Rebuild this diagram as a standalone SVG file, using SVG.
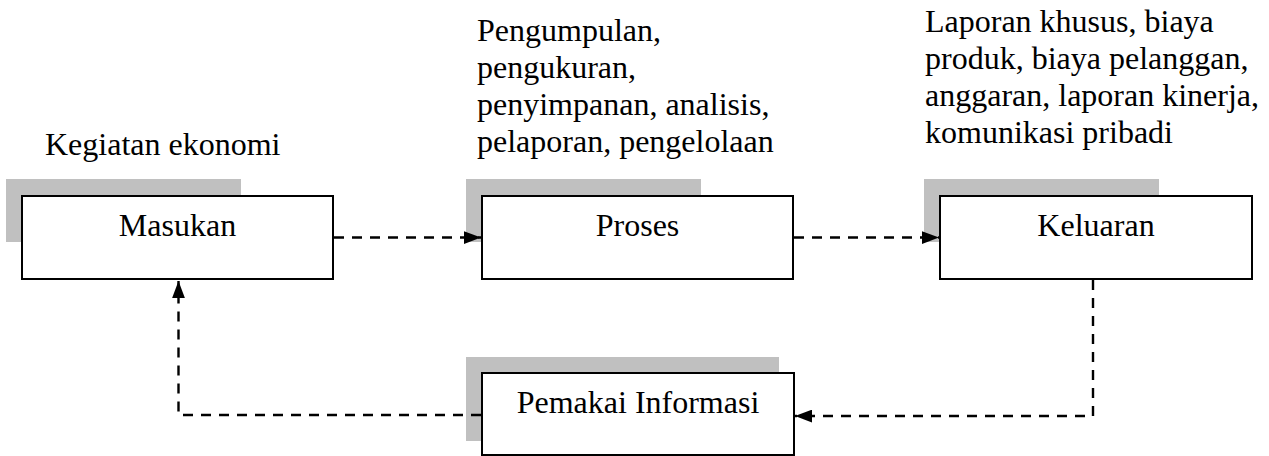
<svg xmlns="http://www.w3.org/2000/svg" width="1269" height="456" viewBox="0 0 1269 456">
  <style>
    .shadow { fill: #c0c0c0; stroke: none; }
    .box { fill: #ffffff; stroke: #000000; stroke-width: 2; }
    text { font-family: "Liberation Serif", serif; font-size: 32px; fill: #000000; }
    .mid { text-anchor: middle; }
    .flow { fill: none; stroke: #000000; stroke-width: 2.4; stroke-dasharray: 10 8; }
  </style>
  <defs>
    <marker id="head" viewBox="0 0 16 12" refX="16" refY="6" markerWidth="17" markerHeight="13" markerUnits="userSpaceOnUse" orient="auto">
      <path d="M0,0 L16,6 L0,12 Z" fill="#000000"/>
    </marker>
  </defs>

  <rect width="1269" height="456" fill="#ffffff"/>

  <!-- notes above the boxes, set as multi-line text blocks -->
  <g id="note-masukan">
    <text x="45" y="155" style="font-family:'Liberation Serif',serif">Kegiatan ekonomi</text>
  </g>
  <g id="note-proses">
    <text style="font-family:'Liberation Serif',serif">
      <tspan x="477" y="41">Pengumpulan,</tspan>
      <tspan x="477" y="78">pengukuran,</tspan>
      <tspan x="477" y="115">penyimpanan, analisis,</tspan>
      <tspan x="477" y="152">pelaporan, pengelolaan</tspan>
    </text>
  </g>
  <g id="note-keluaran">
    <text style="font-family:'Liberation Serif',serif">
      <tspan x="925" y="32">Laporan khusus, biaya</tspan>
      <tspan x="925" y="69">produk, biaya pelanggan,</tspan>
      <tspan x="925" y="106">anggaran, laporan kinerja,</tspan>
      <tspan x="925" y="143">komunikasi pribadi</tspan>
    </text>
  </g>

  <g id="masukan">
    <rect class="shadow" x="6" y="179" width="235" height="63"/>
    <rect class="box" x="22" y="196" width="311" height="83"/>
    <text class="mid" x="177.5" y="236">Masukan</text>
  </g>

  <g id="proses">
    <rect class="shadow" x="466" y="179" width="235" height="63"/>
    <rect class="box" x="482" y="196" width="311" height="83"/>
    <text class="mid" x="637.5" y="236">Proses</text>
  </g>

  <g id="keluaran">
    <rect class="shadow" x="924" y="179" width="235" height="63"/>
    <rect class="box" x="940" y="196" width="312" height="83"/>
    <text class="mid" x="1096" y="236">Keluaran</text>
  </g>

  <g id="pemakai-informasi">
    <rect class="shadow" x="466" y="357" width="313" height="84"/>
    <rect class="box" x="482" y="373" width="312" height="82"/>
    <text class="mid" x="638" y="413">Pemakai Informasi</text>
  </g>

  <g id="connectors">
    <path class="flow" d="M334,237.5 H481" marker-end="url(#head)"/>
    <path class="flow" d="M794,237.5 H939" marker-end="url(#head)"/>
    <path class="flow" d="M1093,280 V416 H795" marker-end="url(#head)"/>
    <path class="flow" d="M481,415 H178.5 V281" marker-end="url(#head)"/>
  </g>
</svg>
